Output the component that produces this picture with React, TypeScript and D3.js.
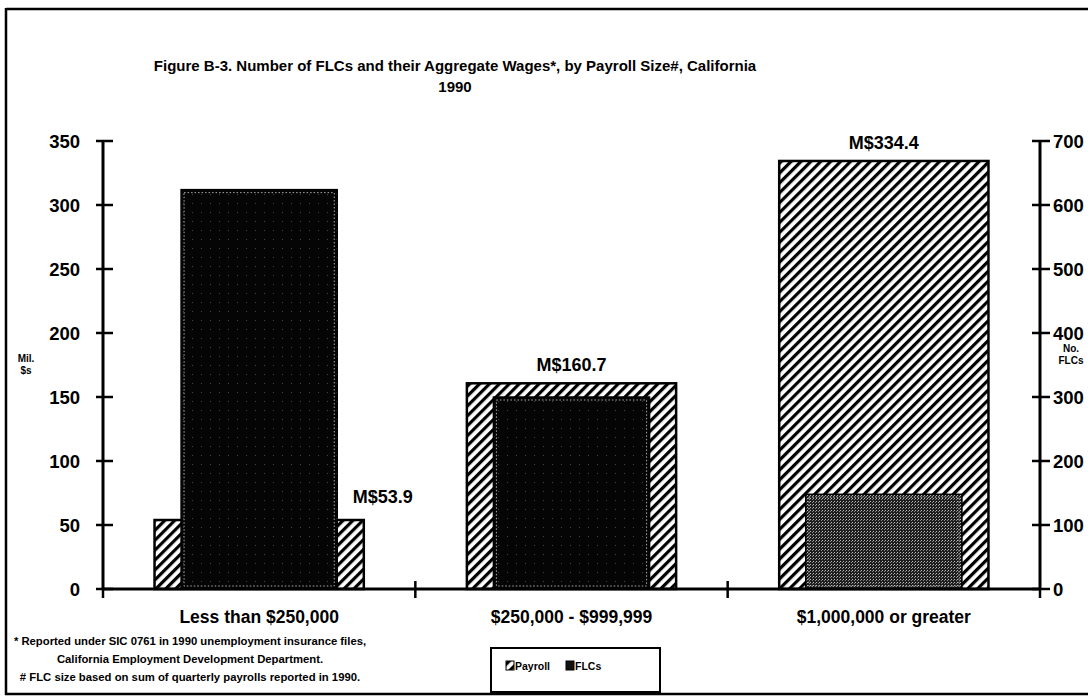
import React from "react";
import * as d3 from "d3";

const categories = ["Less than $250,000", "$250,000 - $999,999", "$1,000,000 or greater"];
const payroll = [53.9, 160.7, 334.4]; // million $
const flcs = [624, 300, 148]; // number of FLCs
const payrollLabels = ["M$53.9", "M$160.7", "M$334.4"];
const leftTicks = [0, 50, 100, 150, 200, 250, 300, 350];
const rightTicks = [0, 100, 200, 300, 400, 500, 600, 700];
const titleLines = [
  "Figure B-3. Number of FLCs and their Aggregate Wages*, by Payroll Size#, California",
  "1990",
];
const footnotes = [
  "* Reported under SIC 0761 in 1990 unemployment insurance files,",
  "California Employment Development Department.",
  "# FLC size based on sum of quarterly payrolls reported in 1990.",
];
const legendItems = ["Payroll", "FLCs"];

const flcFillIds = ["flcDark", "flcDark", "flcGray"];

const W = 1090;
const H = 697;
const FONT = "'Liberation Sans', Arial, Helvetica, sans-serif";

export default function App() {
  const x = d3.scaleBand<string>().domain(categories).range([103, 1040]);
  const yL = d3.scaleLinear().domain([0, 350]).range([589, 141]);
  const yR = d3.scaleLinear().domain([0, 700]).range([589, 141]);
  const bw = x.bandwidth();
  const pW = bw * 0.67;
  const fW = bw * 0.5;
  const x0 = x.range()[0];
  const x1 = x.range()[1];

  return (
    <svg width={W} height={H} style={{ position: "absolute", left: 0, top: 0, background: "#fff" }} fontFamily={FONT}>
      <defs>
        <pattern id="hatch" patternUnits="userSpaceOnUse" width="7" height="7" patternTransform="rotate(45)">
          <rect width="7" height="7" fill="#fff" />
          <rect x="0" y="0" width="3.2" height="7" fill="#000" />
        </pattern>
        <pattern id="flcDark" patternUnits="userSpaceOnUse" width="9" height="9">
          <rect width="9" height="9" fill="#050505" />
          <rect x="3" y="5" width="1" height="1" fill="#444" />
        </pattern>
        <pattern id="flcGray" patternUnits="userSpaceOnUse" width="3" height="3">
          <rect width="3" height="3" fill="#1e1e1e" />
          <rect x="0" y="0" width="1" height="1" fill="#bbb" />
          <rect x="2" y="1" width="1" height="1" fill="#888" />
        </pattern>
      </defs>
      <rect width={W} height={H} fill="#fff" />
      {/* frame */}
      <line x1={6} y1={9} x2={1088} y2={9} stroke="#000" strokeWidth={2.5} />
      <line x1={6} y1={8} x2={6} y2={695} stroke="#000" strokeWidth={2.5} />
      <line x1={5} y1={694} x2={1088} y2={694} stroke="#000" strokeWidth={2.5} />

      {/* title */}
      {titleLines.map((t, i) => (
        <text key={t} x={455} y={71 + i * 21} textAnchor="middle" fontSize={15} fontWeight="bold">
          {t}
        </text>
      ))}

      {/* bars */}
      {categories.map((c, i) => {
        const cx = (x(c) as number) + bw / 2;
        return (
          <g key={c}>
            <rect
              x={cx - pW / 2}
              y={yL(payroll[i])}
              width={pW}
              height={yL(0) - yL(payroll[i])}
              fill="url(#hatch)"
              stroke="#000"
              strokeWidth={2.5}
            />
            <rect
              x={cx - fW / 2}
              y={yR(flcs[i])}
              width={fW}
              height={yR(0) - yR(flcs[i])}
              fill={`url(#${flcFillIds[i]})`}
              stroke="#000"
              strokeWidth={1.5}
            />
            <rect
              x={cx - fW / 2 + 3}
              y={yR(flcs[i]) + 3}
              width={fW - 6}
              height={yR(0) - yR(flcs[i]) - 6}
              fill="none"
              stroke="#aaa"
              strokeWidth={1}
              strokeDasharray="1.5 2"
            />
          </g>
        );
      })}

      {/* payroll value labels */}
      {categories.map((c, i) => {
        const cx = (x(c) as number) + bw / 2;
        const first = i === 0;
        return (
          <text
            key={"l" + c}
            x={first ? cx + pW / 2 - 11 : cx}
            y={first ? yL(payroll[i]) - 17 : yL(payroll[i]) - 12}
            textAnchor={first ? "start" : "middle"}
            fontSize={18}
            fontWeight="bold"
          >
            {payrollLabels[i]}
          </text>
        );
      })}

      {/* x axis */}
      <line x1={x0} y1={yL(0)} x2={x1} y2={yL(0)} stroke="#000" strokeWidth={3} />
      {[x0, ...categories.slice(1).map((c) => x(c) as number), x1].map((px, i) => (
        <line key={"xt" + i} x1={px} y1={i === 0 || i === 3 ? yL(0) : yL(0) - 8} x2={px} y2={yL(0) + 9} stroke="#000" strokeWidth={2.5} />
      ))}
      {categories.map((c) => (
        <text key={"xl" + c} x={(x(c) as number) + bw / 2} y={623} textAnchor="middle" fontSize={17.5} fontWeight="bold">
          {c}
        </text>
      ))}

      {/* left axis */}
      <line x1={103} y1={yL(350)} x2={103} y2={yL(0)} stroke="#000" strokeWidth={3} />
      {leftTicks.map((t) => (
        <g key={"lt" + t}>
          <line x1={96} y1={yL(t)} x2={113} y2={yL(t)} stroke="#000" strokeWidth={2.5} />
          <text x={80} y={yL(t) + 6.5} textAnchor="end" fontSize={18.5} fontWeight="bold">
            {t}
          </text>
        </g>
      ))}
      <text x={26} y={362} textAnchor="middle" fontSize={10} fontWeight="bold">Mil.</text>
      <text x={26} y={374} textAnchor="middle" fontSize={10} fontWeight="bold">$s</text>

      {/* right axis */}
      <line x1={1040} y1={yR(700)} x2={1040} y2={yR(0)} stroke="#000" strokeWidth={3} />
      {rightTicks.map((t) => (
        <g key={"rt" + t}>
          <line x1={1032} y1={yR(t)} x2={1050} y2={yR(t)} stroke="#000" strokeWidth={2.5} />
          <text x={1053} y={yR(t) + 6.5} textAnchor="start" fontSize={18.5} fontWeight="bold">
            {t}
          </text>
        </g>
      ))}
      <text x={1071} y={352} textAnchor="middle" fontSize={10} fontWeight="bold">No.</text>
      <text x={1071} y={364} textAnchor="middle" fontSize={10} fontWeight="bold">FLCs</text>

      {/* footnotes */}
      {footnotes.map((f, i) => (
        <text key={f} x={190} y={645 + i * 18} textAnchor="middle" fontSize={11.3} fontWeight="bold">
          {f}
        </text>
      ))}

      {/* legend */}
      <rect x={491} y={648} width={169} height={44} fill="#fff" stroke="#000" strokeWidth={2} />
      {legendItems.map((l, i) => {
        const lx = 506 + i * 60;
        return (
          <g key={l}>
            <rect x={lx} y={661} width={8} height={9} fill={i === 0 ? "url(#hatch)" : "#111"} stroke="#000" strokeWidth={1} />
            <text x={lx + 9} y={670} fontSize={10.5} fontWeight="bold">
              {l}
            </text>
          </g>
        );
      })}
    </svg>
  );
}
